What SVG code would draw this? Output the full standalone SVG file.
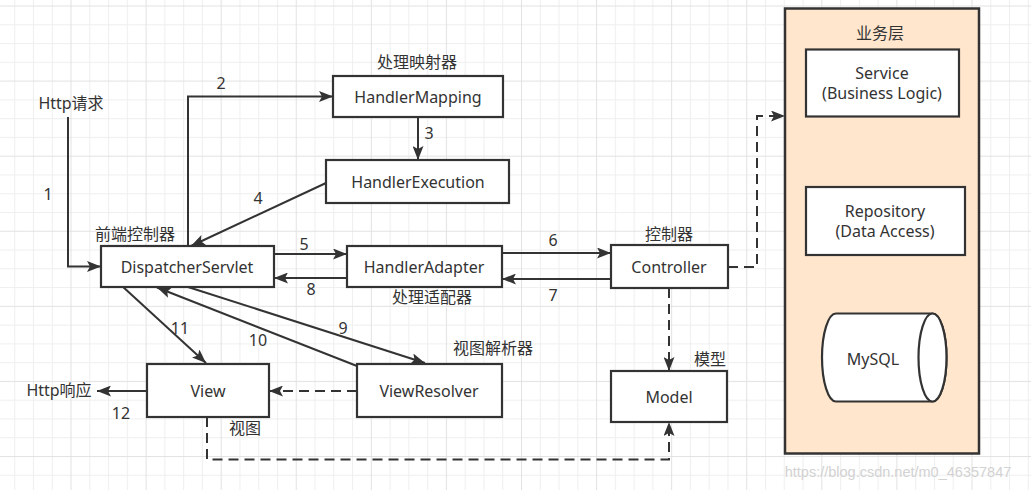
<svg xmlns="http://www.w3.org/2000/svg" width="1031" height="490" viewBox="0 0 1031 490">
  <defs>
    <pattern id="grid" patternUnits="userSpaceOnUse" x="-4.58" y="5.5" width="75.08" height="75.08">
      <rect x="0" y="0" width="75.08" height="75.08" fill="#ffffff"/>
      <g fill="#efefef">
        <rect x="18.77" y="0" width="1" height="75.08"/>
        <rect x="37.54" y="0" width="1" height="75.08"/>
        <rect x="56.31" y="0" width="1" height="75.08"/>
        <rect x="0" y="18.77" width="75.08" height="1"/>
        <rect x="0" y="37.54" width="75.08" height="1"/>
        <rect x="0" y="56.31" width="75.08" height="1"/>
      </g>
      <g fill="#e2e2e2">
        <rect x="0" y="0" width="1" height="75.08"/>
        <rect x="0" y="0" width="75.08" height="1"/>
      </g>
    </pattern>
    <marker id="arr" markerUnits="userSpaceOnUse" viewBox="0 0 14 11" refX="14" refY="5.5" markerWidth="14" markerHeight="11" orient="auto">
      <path d="M0,0 L14,5.5 L0,11 L3,5.5 Z" fill="#333333"/>
    </marker>
    <style>
      .box { fill: #ffffff; stroke: #333333; stroke-width: 2.2; }
      .t { font-family: "Noto Sans", "Noto Sans CJK SC", sans-serif; font-size: 16px; fill: #333333; text-anchor: middle; dominant-baseline: central; }
      .c { fill: none; stroke: #333333; stroke-width: 2; marker-end: url(#arr); }
      .d { stroke-dasharray: 10 6; }
      .wm { font-family: "Liberation Sans", Arial, sans-serif; font-size: 14.5px; fill: #d2d2d2; text-anchor: middle; }
    </style>
  </defs>

  <rect x="0" y="0" width="1031" height="490" fill="url(#grid)"/>

  <g id="biz">
    <rect x="785" y="8.5" width="194" height="445" fill="#ffe6cc" stroke="#333333" stroke-width="2.5"/>
    <text class="t" x="880" y="33">业务层</text>
  </g>
  <g id="service">
    <rect class="box" x="806" y="49.5" width="153" height="67"/>
    <text class="t" x="882" y="73">Service</text>
    <text class="t" x="882" y="93">(Business Logic)</text>
  </g>
  <g id="repo">
    <rect class="box" x="806" y="187" width="159" height="68"/>
    <text class="t" x="885" y="211">Repository</text>
    <text class="t" x="885" y="231">(Data Access)</text>
  </g>
  <g id="mysql">
    <path d="M836,313.5 H932.5 A14,44 0 0 1 932.5,401.5 H836 A14,44 0 0 1 836,313.5 Z" class="box"/>
    <ellipse cx="932.5" cy="357.5" rx="14" ry="44" class="box"/>
    <text class="t" x="873" y="359">MySQL</text>
  </g>

  <g id="connectors">
    <path class="c" d="M68,117 V266.5 H101"/>
    <path class="c" d="M188,246 V96.5 H333"/>
    <path class="c" d="M418,117 V160"/>
    <path class="c" d="M326,183 L191,246"/>
    <path class="c" d="M274,254 H347"/>
    <path class="c" d="M347,278 H274"/>
    <path class="c" d="M502,253 H611"/>
    <path class="c" d="M611,279 H502"/>
    <path class="c" d="M122,286 L206,363"/>
    <path class="c" d="M357,366 L157,287.5"/>
    <path class="c" d="M188,287 L425,363"/>
    <path class="c" d="M147,391 H97"/>
    <path class="c d" d="M357,391 H269"/>
    <path class="c d" d="M728,267 H757 V116 H785"/>
    <path class="c d" d="M669,288 V371"/>
    <path class="c d" d="M207,417 V459.5 H669 V422"/>
  </g>

  <g id="hm">
    <rect class="box" x="333" y="76" width="170" height="41"/>
    <text class="t" x="418" y="97">HandlerMapping</text>
    <text class="t" x="417" y="62">处理映射器</text>
  </g>
  <g id="he">
    <rect class="box" x="326" y="160" width="183" height="43"/>
    <text class="t" x="418" y="182">HandlerExecution</text>
  </g>
  <g id="ds">
    <rect class="box" x="101" y="246" width="173" height="41"/>
    <text class="t" x="187" y="267">DispatcherServlet</text>
    <text class="t" x="135" y="234">前端控制器</text>
  </g>
  <g id="ha">
    <rect class="box" x="347" y="246" width="155" height="41"/>
    <text class="t" x="424" y="267">HandlerAdapter</text>
    <text class="t" x="432" y="297">处理适配器</text>
  </g>
  <g id="ctrl">
    <rect class="box" x="611" y="245" width="117" height="43"/>
    <text class="t" x="669" y="267">Controller</text>
    <text class="t" x="669" y="234">控制器</text>
  </g>
  <g id="view">
    <rect class="box" x="147" y="364" width="122" height="53"/>
    <text class="t" x="208" y="391">View</text>
    <text class="t" x="245" y="428">视图</text>
  </g>
  <g id="vr">
    <rect class="box" x="357" y="364" width="145" height="53"/>
    <text class="t" x="429" y="391">ViewResolver</text>
    <text class="t" x="493" y="348">视图解析器</text>
  </g>
  <g id="model">
    <rect class="box" x="611" y="371" width="116" height="51"/>
    <text class="t" x="669" y="397">Model</text>
    <text class="t" x="710" y="359">模型</text>
  </g>

  <g id="labels">
    <text class="t" x="71" y="103">Http请求</text>
    <text class="t" x="59" y="390">Http响应</text>
    <text class="t" x="48" y="194">1</text>
    <text class="t" x="221" y="83">2</text>
    <text class="t" x="429" y="133">3</text>
    <text class="t" x="258" y="198">4</text>
    <text class="t" x="304" y="244">5</text>
    <text class="t" x="553" y="240">6</text>
    <text class="t" x="553" y="295">7</text>
    <text class="t" x="311" y="289">8</text>
    <text class="t" x="343" y="328">9</text>
    <text class="t" x="258" y="340">10</text>
    <text class="t" x="180" y="328">11</text>
    <text class="t" x="121" y="413">12</text>
  </g>

  <text class="wm" x="898" y="477">https://blog.csdn.net/m0_46357847</text>
</svg>
